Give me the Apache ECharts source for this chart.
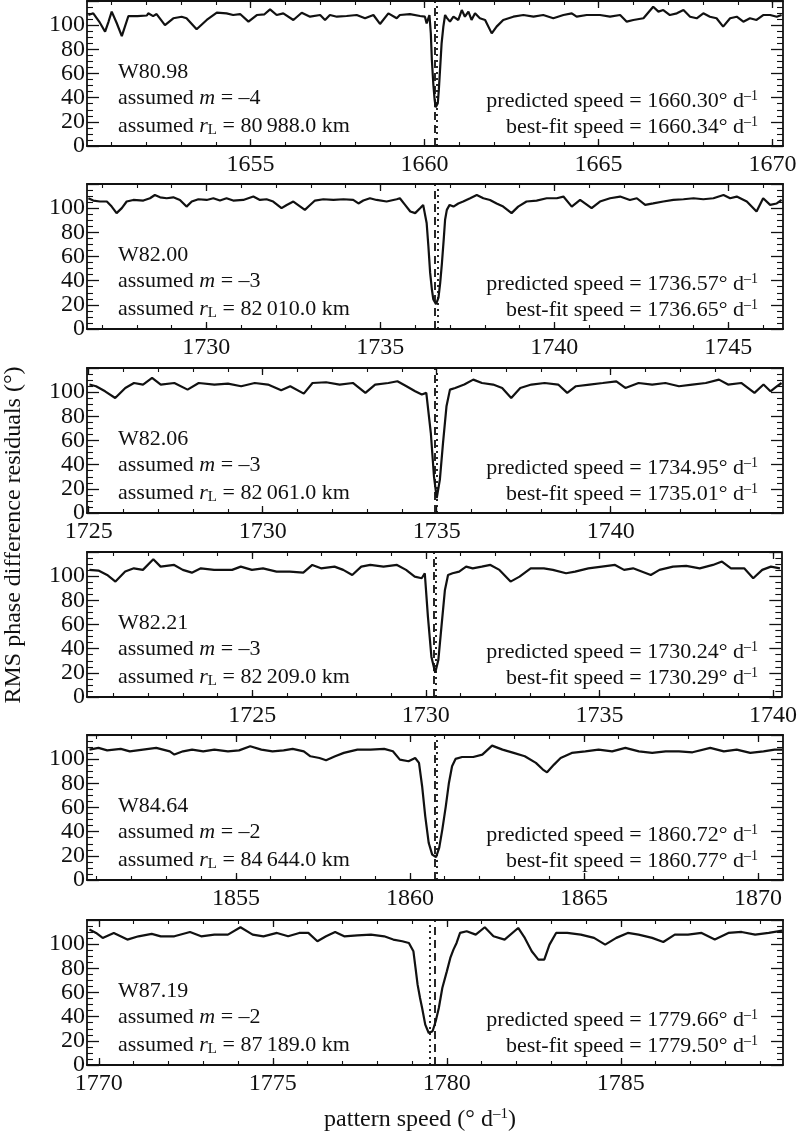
<!DOCTYPE html>
<html><head><meta charset="utf-8">
<script src="https://cdn.jsdelivr.net/npm/echarts@6/dist/echarts.min.js"></script>
<style>html,body{margin:0;padding:0;background:#fff}#c{width:800px;height:1132px}</style>
</head><body><div id="c"></div><script>
// ---- data ----
const names = ['W80.98','W82.00','W82.06','W82.21','W84.64','W87.19'];
const mValues = ['–4','–3','–3','–3','–2','–2'];
const rLValues = ['80\u2009988.0','82\u2009010.0','82\u2009061.0','82\u2009209.0','84\u2009644.0','87\u2009189.0'];
const predicted = [1660.30,1736.57,1734.95,1730.24,1860.72,1779.66];
const bestFit = [1660.34,1736.65,1735.01,1730.29,1860.77,1779.50];
const xMin = [1650.30,1726.57,1724.95,1720.24,1850.72,1769.66];
const xMax = [1670.30,1746.57,1744.95,1740.24,1870.72,1789.66];
const xTickLabels = [[1655,1660,1665,1670],[1730,1735,1740,1745],[1725,1730,1735,1740],[1725,1730,1735,1740],[1855,1860,1865,1870],[1770,1775,1780,1785]];
const yTickLabels = [0,20,40,60,80,100];

const w8098 = [[1650.34,108.4],[1650.48,109.8],[1650.65,103],[1650.82,94.6],[1650.92,103],[1651.01,111.2],[1651.15,102],[1651.30,91.0],[1651.49,107.6],[1651.75,107.5],[1652.02,108],[1652.06,109.8],[1652.20,107.5],[1652.30,109.2],[1652.54,100.1],[1652.78,105.7],[1653.02,107.0],[1653.16,105.7],[1653.45,96.6],[1653.74,104.3],[1654.03,110.3],[1654.31,109.8],[1654.50,108.4],[1654.70,109.2],[1654.94,102.9],[1655.18,108.4],[1655.40,109],[1655.56,113.1],[1655.75,108.4],[1655.94,109.8],[1656.23,104.3],[1656.47,110.3],[1656.71,107.0],[1657.00,108.4],[1657.14,104.3],[1657.28,108.4],[1657.48,107.0],[1657.76,107.6],[1658.05,108.4],[1658.29,105.7],[1658.53,108.4],[1658.72,101.0],[1658.96,109.8],[1659.20,105.7],[1659.29,108.4],[1659.58,109.2],[1659.87,107.6],[1660.01,107.0],[1660.06,101.5],[1660.14,108.4],[1660.18,93.2],[1660.21,71.2],[1660.25,51.9],[1660.29,38.1],[1660.32,32.0],[1660.35,31.2],[1660.38,35.4],[1660.41,46.4],[1660.45,65.7],[1660.49,85.0],[1660.54,98.8],[1660.59,108.4],[1660.64,106],[1660.73,102.9],[1660.83,107.0],[1660.97,104.3],[1661.07,112.5],[1661.16,107.0],[1661.26,111.2],[1661.35,104.3],[1661.45,109.8],[1661.59,105.7],[1661.74,104.3],[1661.93,93.2],[1662.07,98.8],[1662.26,104.3],[1662.55,107.0],[1662.84,108.4],[1663.13,107.0],[1663.41,108.4],[1663.70,105.7],[1663.99,108.4],[1664.23,109.8],[1664.37,107.0],[1664.66,108.4],[1665.04,108.4],[1665.33,107.0],[1665.62,108.4],[1665.81,102.9],[1666.00,104.3],[1666.29,105.7],[1666.57,115.3],[1666.72,111.2],[1666.86,112.5],[1667.05,108.4],[1667.25,109.8],[1667.44,112.5],[1667.63,107.0],[1667.82,105.7],[1668.01,109.8],[1668.20,107.0],[1668.39,105.7],[1668.58,98.8],[1668.78,105.7],[1668.97,107.0],[1669.16,102.9],[1669.35,105.7],[1669.54,104.3],[1669.73,108.4],[1669.93,108.4],[1670.12,107.0],[1670.26,108.4]];

const w8200 = [[1726.61,108.2],[1726.75,106.3],[1726.94,105.5],[1727.14,105.5],[1727.28,101.3],[1727.42,95.9],[1727.57,100],[1727.71,105.5],[1727.90,106.8],[1728.19,106.3],[1728.38,108.2],[1728.52,110.9],[1728.67,109],[1728.86,108.2],[1729.05,109],[1729.24,106.8],[1729.43,101.3],[1729.58,105.5],[1729.77,107.4],[1730.01,106.8],[1730.20,108.2],[1730.39,106.3],[1730.58,108.2],[1730.77,106.3],[1731.06,106.8],[1731.35,109.6],[1731.54,106.8],[1731.73,107.4],[1731.92,105.5],[1732.16,100],[1732.31,102.6],[1732.50,105.5],[1732.64,102.6],[1732.83,98.6],[1732.98,102.6],[1733.12,106.3],[1733.36,107.4],[1733.65,106.8],[1733.94,107.4],[1734.22,106.8],[1734.37,103.9],[1734.51,106.3],[1734.70,108.2],[1734.89,106.8],[1735.18,105.5],[1735.47,107.4],[1735.56,108.2],[1735.71,102.7],[1735.86,97.2],[1736.00,95.9],[1736.14,100],[1736.23,102.7],[1736.33,87.7],[1736.38,68.5],[1736.43,46.6],[1736.48,32.9],[1736.52,24.7],[1736.60,20.5],[1736.67,26],[1736.72,38.4],[1736.77,54.8],[1736.82,74],[1736.86,90.4],[1736.91,98.6],[1736.99,102.7],[1737.10,101.3],[1737.24,103.9],[1737.38,105.5],[1737.58,108.2],[1737.77,110.9],[1737.96,108.2],[1738.15,106.8],[1738.34,103.9],[1738.53,101.3],[1738.77,95.9],[1738.96,101.3],[1739.20,105.5],[1739.49,106.3],[1739.78,108.2],[1740.07,108.2],[1740.26,109.6],[1740.50,101.3],[1740.74,106.8],[1741.07,100],[1741.31,105.5],[1741.60,108.2],[1741.89,109.6],[1742.17,106.8],[1742.37,108.2],[1742.61,102.7],[1742.84,103.9],[1743.13,105.5],[1743.42,106.8],[1743.71,107.4],[1744.00,108.2],[1744.28,107.4],[1744.57,108.2],[1744.86,110.9],[1745.05,108.2],[1745.24,109.6],[1745.53,105.5],[1745.81,97.2],[1746.00,108.2],[1746.20,102.7],[1746.39,103.9],[1746.53,106.8]];

const w8206 = [[1725.02,106.3],[1725.21,104.9],[1725.47,100.7],[1725.76,95.2],[1726.05,103.5],[1726.30,107.6],[1726.56,106.3],[1726.82,111.8],[1727.07,106.3],[1727.46,107.6],[1727.84,102.1],[1728.16,107.6],[1728.61,106.3],[1729.00,107.1],[1729.38,104.9],[1729.77,107.6],[1730.15,106.3],[1730.53,101.6],[1730.79,104.9],[1731.18,98.8],[1731.43,107.6],[1731.82,108.2],[1732.21,106.3],[1732.59,107.6],[1732.95,99.4],[1733.23,106.3],[1733.61,107.6],[1733.87,109.0],[1734.13,104.9],[1734.38,100.7],[1734.57,98.0],[1734.70,99.4],[1734.83,66.2],[1734.92,30.4],[1735.00,12.4],[1735.09,27.6],[1735.18,57.9],[1735.28,88.3],[1735.38,102.1],[1735.53,103.5],[1735.79,106.3],[1736.05,110.4],[1736.30,107.6],[1736.62,106.3],[1736.88,103.5],[1737.14,95.2],[1737.40,103.5],[1737.72,106.3],[1738.10,107.6],[1738.49,106.3],[1738.75,99.4],[1739.00,104.9],[1739.39,106.3],[1739.77,107.6],[1740.16,109.0],[1740.42,103.5],[1740.80,107.6],[1741.19,106.3],[1741.57,107.6],[1741.96,104.9],[1742.34,106.3],[1742.73,107.6],[1743.11,110.4],[1743.37,106.3],[1743.75,107.6],[1744.13,99.4],[1744.39,106.3],[1744.59,100.7],[1744.78,104.9],[1744.91,107.6]];

const w8221 = [[1720.31,105.2],[1720.57,104.6],[1720.82,101.0],[1721.06,95.5],[1721.34,103.8],[1721.59,106.5],[1721.85,105.2],[1722.15,114.0],[1722.36,107.9],[1722.75,109.3],[1723.00,105.2],[1723.26,102.9],[1723.52,106.5],[1723.90,105.2],[1724.42,105.2],[1724.67,107.9],[1724.99,105.2],[1725.31,106.5],[1725.70,103.8],[1726.08,103.8],[1726.47,102.9],[1726.73,109.3],[1726.98,106.5],[1727.37,107.9],[1727.62,105.2],[1727.88,101.0],[1728.14,107.9],[1728.40,109.3],[1728.78,107.9],[1729.17,109.3],[1729.43,105.2],[1729.68,99.6],[1729.88,98.3],[1729.97,102.4],[1730.06,66.5],[1730.16,33.4],[1730.27,20.1],[1730.36,30.6],[1730.45,58.2],[1730.55,88.6],[1730.64,101.0],[1730.77,102.4],[1730.96,103.8],[1731.16,107.9],[1731.35,106.5],[1731.61,107.9],[1731.86,109.3],[1732.12,105.2],[1732.44,95.5],[1732.70,99.6],[1733.02,106.5],[1733.40,106.5],[1733.66,105.2],[1734.04,102.4],[1734.30,103.8],[1734.68,106.5],[1735.07,107.9],[1735.45,109.3],[1735.71,105.2],[1735.97,106.5],[1736.48,101.0],[1736.73,105.2],[1737.12,107.9],[1737.50,108.5],[1737.89,106.5],[1738.27,109.3],[1738.53,112.1],[1738.79,106.5],[1739.17,106.5],[1739.43,98.3],[1739.69,105.2],[1739.94,107.9],[1740.20,106.5]];

const w8464 = [[1850.79,107.9],[1851.05,109.3],[1851.30,107.3],[1851.69,108.5],[1851.95,106.5],[1852.33,107.9],[1852.71,109.3],[1853.10,106.5],[1853.23,103.8],[1853.48,106.5],[1853.74,107.9],[1854.06,106.5],[1854.38,107.9],[1854.77,106.5],[1855.09,107.3],[1855.41,110.7],[1855.73,107.9],[1856.05,106.5],[1856.37,107.3],[1856.63,108.5],[1856.95,106.5],[1857.14,102.4],[1857.40,101.0],[1857.59,99.1],[1857.85,102.4],[1858.10,105.2],[1858.49,107.9],[1858.87,107.9],[1859.26,108.5],[1859.51,106.5],[1859.71,99.6],[1859.96,98.3],[1860.15,101.0],[1860.26,96.9],[1860.35,77.6],[1860.44,52.7],[1860.54,30.6],[1860.64,21.0],[1860.75,19.0],[1860.84,26.5],[1860.93,41.7],[1861.03,61.0],[1861.12,80.3],[1861.21,94.1],[1861.31,100.2],[1861.50,101.8],[1861.82,101.8],[1862.08,103.8],[1862.36,111.2],[1862.66,107.9],[1862.98,105.2],[1863.30,102.4],[1863.62,96.9],[1863.82,91.4],[1863.94,89.1],[1864.14,95.5],[1864.33,101.0],[1864.65,105.2],[1865.04,106.5],[1865.42,107.9],[1865.81,106.5],[1866.19,109.3],[1866.58,106.5],[1866.96,105.2],[1867.35,106.5],[1867.73,106.5],[1868.12,105.7],[1868.63,109.3],[1869.02,106.5],[1869.39,107.9],[1869.78,105.2],[1870.16,106.5],[1870.48,107.9],[1870.70,107.9]];

const w8719 = [[1769.73,112.1],[1769.92,109.3],[1770.11,105.2],[1770.43,109.3],[1770.82,103.8],[1771.14,106.5],[1771.52,108.5],[1771.78,106.5],[1772.17,106.5],[1772.62,110.1],[1772.94,106.5],[1773.32,107.9],[1773.71,107.9],[1774.07,114.0],[1774.42,107.9],[1774.73,106.5],[1775.12,109.3],[1775.44,106.5],[1775.76,109.3],[1776.02,109.3],[1776.28,102.4],[1776.53,106.5],[1776.79,110.1],[1777.05,106.5],[1777.43,107.3],[1777.82,107.9],[1778.20,106.5],[1778.46,103.8],[1778.72,102.4],[1778.91,101.0],[1779.04,94.1],[1779.10,80.3],[1779.16,66.5],[1779.23,55.5],[1779.29,47.2],[1779.38,33.4],[1779.48,26.5],[1779.59,27.9],[1779.68,36.2],[1779.77,47.2],[1779.87,63.7],[1780.00,77.5],[1780.10,88.6],[1780.19,95.5],[1780.28,101.0],[1780.38,109.3],[1780.57,110.7],[1780.83,107.9],[1781.09,114.0],[1781.34,106.5],[1781.66,103.8],[1782.05,113.4],[1782.24,105.2],[1782.44,94.1],[1782.63,87.2],[1782.80,87.2],[1782.95,99.6],[1783.14,109.3],[1783.46,109.3],[1783.85,107.9],[1784.23,105.2],[1784.55,99.6],[1784.87,105.2],[1785.20,109.3],[1785.51,107.9],[1785.90,105.2],[1786.22,101.8],[1786.55,107.9],[1786.93,107.9],[1787.32,109.3],[1787.70,103.8],[1788.09,109.3],[1788.47,110.1],[1788.86,107.9],[1789.25,109.3],[1789.64,111.2]];

const curves = [w8098, w8200, w8206, w8221, w8464, w8719];

// ---- layout ----
const FONT = '"Liberation Serif", "Times New Roman", serif';
const gridTops = [1, 184, 368, 552, 735, 920];
const GH = 145, GL = 87, GR = 17;
const TICKFS = 24, ANNFS = 22, TITLEFS = 24;

const grid = [], xAxis = [], yAxis = [], series = [], graphic = [];
const lineCol = '#111';

gridTops.forEach((top, i) => {
  grid.push({left: GL, right: GR, top: top, height: GH, containLabel: false});
  const minor = [];
  for (let v = Math.ceil(xMin[i]); v <= Math.floor(xMax[i]); v++) minor.push(v);
  const base = {type: 'value', gridIndex: i, min: xMin[i], max: xMax[i], splitLine: {show: false}};
  xAxis.push(Object.assign({}, base, {
    position: 'bottom',
    axisLine: {show: true, lineStyle: {color: lineCol, width: 1.8}},
    axisTick: {show: true, inside: true, length: 7, customValues: xTickLabels[i], lineStyle: {color: lineCol, width: 1.3}},
    axisLabel: {show: true, customValues: xTickLabels[i], margin: 7, color: '#111', fontSize: TICKFS, fontFamily: FONT, formatter: v => String(v)}
  }));
  xAxis.push(Object.assign({}, base, {
    position: 'bottom',
    axisLine: {show: false},
    axisTick: {show: true, inside: true, length: 4, customValues: minor, lineStyle: {color: lineCol, width: 1.1}},
    axisLabel: {show: false}
  }));
  xAxis.push(Object.assign({}, base, {
    position: 'top',
    axisLine: {show: true, lineStyle: {color: lineCol, width: 1.8}},
    axisTick: {show: true, inside: true, length: 7, customValues: xTickLabels[i], lineStyle: {color: lineCol, width: 1.3}},
    axisLabel: {show: false}
  }));
  xAxis.push(Object.assign({}, base, {
    position: 'top',
    axisLine: {show: false},
    axisTick: {show: true, inside: true, length: 4, customValues: minor, lineStyle: {color: lineCol, width: 1.1}},
    axisLabel: {show: false}
  }));
  const ybase = {type: 'value', gridIndex: i, min: 0, max: 120, interval: 20, splitLine: {show: false},
    axisLine: {show: true, lineStyle: {color: lineCol, width: 1.8}},
    axisTick: {show: true, inside: true, length: 12, lineStyle: {color: lineCol, width: 1.3}},
    minorTick: {show: true, splitNumber: 4, length: 6, lineStyle: {color: lineCol, width: 1.1}},
    minorSplitLine: {show: false}};
  yAxis.push(Object.assign({}, ybase, {
    position: 'left',
    axisLabel: {show: true, margin: 2, color: '#111', fontSize: TICKFS, fontFamily: FONT,
      formatter: v => (yTickLabels.indexOf(v) >= 0 ? String(v) : '')}
  }));
  yAxis.push(Object.assign({}, ybase, {position: 'right', axisLabel: {show: false}}));

  series.push({
    type: 'line', xAxisIndex: i * 4, yAxisIndex: i * 2, data: curves[i],
    showSymbol: false, symbol: 'none', smooth: false, animation: false, silent: true,
    lineStyle: {color: lineCol, width: 2.2},
    markLine: {
      silent: true, symbol: 'none', animation: false, label: {show: false},
      data: [
        {xAxis: predicted[i], lineStyle: {color: lineCol, width: 1.8, type: [8, 5]}},
        {xAxis: bestFit[i], lineStyle: {color: lineCol, width: 1.8, type: [2, 4]}}
      ]
    }
  });

  const rich = {
    n: {fontSize: ANNFS, fontFamily: FONT, fill: '#111', lineHeight: 24},
    i: {fontSize: ANNFS, fontFamily: FONT, fontStyle: 'italic', fill: '#111', lineHeight: 24},
    sub: {fontSize: 15, fontFamily: FONT, fill: '#111', verticalAlign: 'bottom', lineHeight: 15, padding: [11, 0, 0, 0]},
    sup: {fontSize: 14, fontFamily: FONT, fill: '#111', verticalAlign: 'top', lineHeight: 14}
  };
  const txt = (x, y, text, align) => ({
    type: 'text', x: x, y: y, silent: true,
    style: {text: text, rich: rich, fontSize: ANNFS, fontFamily: FONT, fill: '#111', align: align, verticalAlign: 'middle'}
  });
  graphic.push(txt(118, top + 71, '{n|' + names[i] + '}', 'left'));
  graphic.push(txt(118, top + 97, '{n|assumed }{i|m}{n| = ' + mValues[i] + '}', 'left'));
  graphic.push(txt(118, top + 125, '{n|assumed }{i|r}{sub|L}{n| = ' + rLValues[i] + ' km}', 'left'));
  graphic.push(txt(758, top + 100, '{n|predicted speed = ' + predicted[i].toFixed(2) + '° d}{sup|–1}', 'right'));
  graphic.push(txt(758, top + 126, '{n|best-fit speed = ' + bestFit[i].toFixed(2) + '° d}{sup|–1}', 'right'));
});

graphic.push({type: 'text', x: 14, y: 535, rotation: Math.PI / 2, silent: true,
  style: {text: 'RMS phase difference residuals (°)', fontSize: TITLEFS, fontFamily: FONT, fill: '#111', align: 'center', verticalAlign: 'middle'}});
graphic.push({type: 'text', x: 420, y: 1120, silent: true,
  style: {text: '{n|pattern speed (° d}{sup|–1}{n|)}', fontSize: TITLEFS, fontFamily: FONT, fill: '#111', align: 'center', verticalAlign: 'middle',
    rich: {n: {fontSize: TITLEFS, fontFamily: FONT, fill: '#111', lineHeight: 26}, sup: {fontSize: 15, fontFamily: FONT, fill: '#111', verticalAlign: 'top', lineHeight: 15}}}});

const chart = echarts.init(document.getElementById('c'), null, {renderer: 'canvas'});
chart.setOption({animation: false, backgroundColor: '#fff', grid, xAxis, yAxis, series, graphic});
</script></body></html>
